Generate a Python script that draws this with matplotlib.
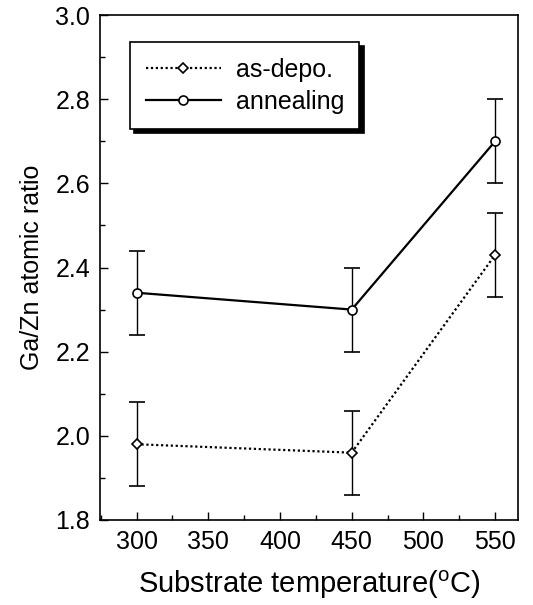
import matplotlib
matplotlib.use("Agg")
from matplotlib import pyplot as plt
from matplotlib.ticker import MultipleLocator

plt.rcParams["font.family"] = ["Liberation Sans", "DejaVu Sans"]
plt.rcParams["mathtext.fontset"] = "custom"
plt.rcParams["mathtext.rm"] = "Liberation Sans"

temperature = [300, 450, 550]
as_depo = [1.98, 1.96, 2.43]
as_depo_err = [0.1, 0.1, 0.1]
annealing = [2.34, 2.30, 2.70]
annealing_err = [0.1, 0.1, 0.1]

fig = plt.figure(figsize=(5.33, 6.05), dpi=100)
ax = fig.add_axes([0.1876, 0.1405, 0.7844, 0.8347])

dep = ax.errorbar(temperature, as_depo, yerr=as_depo_err, color="black",
                  linestyle=(0, (1, 1.2)), linewidth=1.6, marker="D", markersize=5.5,
                  markerfacecolor="white", markeredgewidth=1.2, capsize=5.8,
                  elinewidth=1.0, capthick=1.0, label="as-depo.")
ann = ax.errorbar(temperature, annealing, yerr=annealing_err, color="black",
                  linestyle="-", linewidth=1.6, marker="o", markersize=6.5,
                  markerfacecolor="white", markeredgewidth=1.2, capsize=5.8,
                  elinewidth=1.0, capthick=1.0, label="annealing")

ax.set_xlim(274.5, 566)
ax.set_ylim(1.8, 3.0)
ax.xaxis.set_major_locator(MultipleLocator(50))
ax.xaxis.set_minor_locator(MultipleLocator(25))
ax.yaxis.set_major_locator(MultipleLocator(0.2))
ax.yaxis.set_minor_locator(MultipleLocator(0.1))
ax.yaxis.set_major_formatter(lambda v, pos: f"{v:.1f}")
ax.tick_params(which="both", direction="in", labelsize=18, width=1.0)
ax.tick_params(which="major", length=6, pad=7)
ax.tick_params(which="minor", length=3.5)
for spine in ax.spines.values():
    spine.set_linewidth(1.2)

ax.set_xlabel("Substrate temperature($^{\\mathrm{o}}$C)", fontsize=21, labelpad=11)
ax.set_ylabel("Ga/Zn atomic ratio", fontsize=18, labelpad=8)

# legend shows only the line + marker, not the error bars
leg = ax.legend([dep.lines[0], ann.lines[0]], ["as-depo.", "annealing"],
                loc="upper left", bbox_to_anchor=(0.072, 0.9465),
                borderaxespad=0, fontsize=18, handlelength=3.0, handletextpad=0.6,
                borderpad=0.62, labelspacing=0.33, fancybox=False,
                shadow={"ox": 3, "oy": -3, "color": "black", "alpha": 1})
leg.get_frame().set_edgecolor("black")
leg.get_frame().set_linewidth(1.2)

plt.savefig("out.png", dpi=100)
